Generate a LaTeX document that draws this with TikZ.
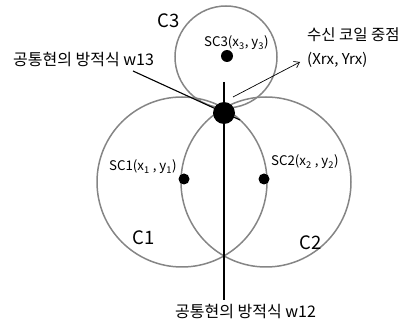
\documentclass[tikz,border=0pt]{standalone}
\usepackage{fontspec}
\setmainfont{Noto Sans CJK KR}
\usetikzlibrary{arrows.meta}
\begin{document}
\begin{tikzpicture}[x=1pt,y=-1pt,
  ring/.style={circle,draw=black!48,line width=1.5pt,inner sep=0pt},
  dotnode/.style={circle,fill=black,inner sep=0pt},
  chord/.style={draw=black,line width=1.1pt},
  lbl/.style={inner sep=0pt,anchor=base west,font=\fontsize{13.3pt}{15pt}\selectfont},
  big/.style={inner sep=0pt,anchor=base west,font=\fontsize{18.5pt}{20pt}\selectfont},
  kor/.style={inner sep=0pt,anchor=base west,font=\fontsize{16pt}{18pt}\selectfont}]
\useasboundingbox (0,0) rectangle (405,326);
% circles
\node[ring,minimum size=170pt] (C1) at (182,182) {};
\node[ring,minimum size=170pt] (C2) at (266,182) {};
\node[ring,minimum size=102pt] (C3) at (226,57) {};
% common chords
\coordinate (w12top) at (224,82);
\coordinate (w12bot) at (224,300);
\coordinate (w13start) at (133,71);
\coordinate (w13end) at (240,120);
\draw[chord] (w12top) -- (w12bot);
\draw[chord] (w13start) -- (w13end);
% dots
\node[dotnode,minimum size=11pt] (SC1) at (184,179) {};
\node[dotnode,minimum size=11pt] (SC2) at (264,179) {};
\node[dotnode,minimum size=12pt] (SC3) at (227,56) {};
\node[dotnode,minimum size=22pt] (RX) at (224,113) {};
% labels
\node[lbl] (L1) at (109,171) {SC1(x\textsubscript{1} , y\textsubscript{1})};
\node[lbl] (L2) at (271,166) {SC2(x\textsubscript{2} , y\textsubscript{2})};
\node[lbl] (L3) at (204,47) {SC3(x\textsubscript{3}, y\textsubscript{3})};
\node[big] (T1) at (132,245) {C1};
\node[big] (T2) at (299,250) {C2};
\node[big] (T3) at (157,28) {C3};
\node[kor] (W13) at (13,66) {공통현의 방적식 w13};
\node[kor] (W12) at (175,318) {공통현의 방적식 w12};
\node[kor,font=\fontsize{15.5pt}{17pt}\selectfont] (RXa) at (307,41) {수신 코일 중점};
\node[kor,font=\fontsize{15pt}{17pt}\selectfont] (RXb) at (307,65) {(Xrx, Yrx)};
\coordinate (arrS) at (233,97);
\coordinate (arrE) at (300,62);
\draw[line width=0.7pt,-{Straight Barb[length=5pt,width=7pt]}] (arrS) -- (arrE);
\end{tikzpicture}
\end{document}
